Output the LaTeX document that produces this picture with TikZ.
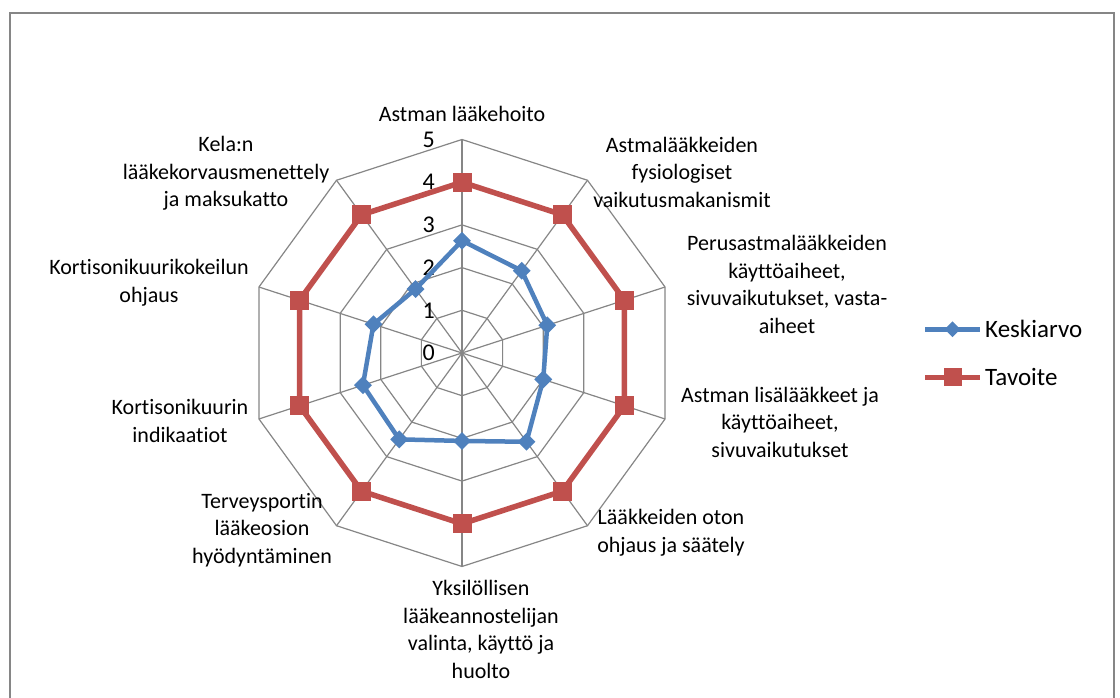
\documentclass[tikz,border=0pt]{standalone}
\usepackage{fontspec}
\setmainfont[Ligatures=NoCommon]{Carlito}
\usetikzlibrary{shapes.geometric}
\definecolor{gridgray}{HTML}{868686}
\definecolor{serblue}{HTML}{4F81BD}
\definecolor{serred}{HTML}{C0504D}

\begin{document}
\begin{tikzpicture}[x=1pt,y=1pt,
  gridline/.style={draw=gridgray, line width=1.2pt},
  axlabel/.style={align=center, font=\fontsize{22}{27.5}\selectfont, inner sep=0pt},
  ticklabel/.style={font=\fontsize{24}{28}\selectfont, anchor=east, inner sep=0pt},
  blueline/.style={draw=serblue, line width=4.5pt, line join=round},
  redline/.style={draw=serred, line width=5.5pt, line join=round},
  diamondmark/.style={diamond, fill=serblue, inner sep=0pt, minimum size=#1},
  diamondmark/.default=18pt,
  squaremark/.style={rectangle, fill=serred, inner sep=0pt, minimum size=#1},
  squaremark/.default=19pt,
  legendtext/.style={font=\fontsize{25}{30}\selectfont, anchor=west, inner sep=0pt}
]
\useasboundingbox (0,0) rectangle (1120,698);
\clip (0,0) rectangle (1120,698);
\fill[white] (0,0) rectangle (1120,698);
% chart frame (open at the bottom edge of the page)
\draw[gridgray, line width=1.3pt] (10,-10) -- (10,685) -- (1114,685) -- (1114,-10);

\begin{scope}[shift={(462,345)}]
  % decagonal grid rings and spokes
  \foreach \k in {1,...,5} {
    \draw[gridline] (90:\k*42.7) \foreach \i in {1,...,9} { -- ({90-36*\i}:\k*42.7) } -- cycle;
  }
  \foreach \i in {0,...,9} \draw[gridline] (0,0) -- ({90-36*\i}:5*42.7);
  % scale numbers
  \foreach \k in {0,...,5} \node[ticklabel] (tick\k) at (-27,\k*42.7) {\k};

  % data points
  \foreach \v [count=\i from 0] in {2.63,2.38,2.10,2.0,2.57,2.06,2.5,2.44,2.18,1.85}
    \coordinate (b\i) at ({90-36*\i}:\v*42.7);
  \foreach \i in {0,...,9}
    \coordinate (r\i) at ({90-36*\i}:4*42.7);

  \draw[blueline] (b0) -- (b1) -- (b2) -- (b3) -- (b4) -- (b5) -- (b6) -- (b7) -- (b8) -- (b9) -- cycle;
  \draw[redline] (r0) -- (r1) -- (r2) -- (r3) -- (r4) -- (r5) -- (r6) -- (r7) -- (r8) -- (r9) -- cycle;
  \foreach \i in {0,...,9} {
    \node[diamondmark] (bm\i) at (b\i) {};
    \node[squaremark] (rm\i) at (r\i) {};
  }
\end{scope}

% axis titles
\node[axlabel] (l0) at (462,584) {Astman lääkehoito};
\node[axlabel] (l1) at (682,526) {Astmalääkkeiden\\fysiologiset\\vaikutusmakanismit};
\node[axlabel] (l2) at (787,413.5) {Perusastmalääkkeiden\\käyttöaiheet,\\sivuvaikutukset, vasta-\\aiheet};
\node[axlabel] (l3) at (780,276) {Astman lisälääkkeet ja\\käyttöaiheet,\\sivuvaikutukset};
\node[axlabel] (l4) at (671,165) {Lääkkeiden oton\\ohjaus ja säätely};
\node[axlabel] (l5) at (481,68.5) {Yksilöllisen\\lääkeannostelijan\\valinta, käyttö ja\\huolto};
\node[axlabel] (l6) at (262,168) {Terveysportin\\lääkeosion\\hyödyntäminen};
\node[axlabel] (l7) at (180,277) {Kortisonikuurin\\indikaatiot};
\node[axlabel] (l8) at (149,415) {Kortisonikuurikokeilun\\ohjaus};
\node[axlabel] (l9) at (226,524.5) {Kela:n\\lääkekorvausmenettely\\ja maksukatto};

% legend
\coordinate (kbA) at (925,368.7);
\coordinate (kbB) at (980,368.7);
\coordinate (ktA) at (925,320.7);
\coordinate (ktB) at (980,320.7);
\draw[blueline] (kbA) -- (kbB);
\node[diamondmark=16pt] (kbm) at (952.5,368.7) {};
\node[legendtext] (kbt) at (985,368.7) {Keskiarvo};
\draw[redline] (ktA) -- (ktB);
\node[squaremark=18pt] (ktm) at (952.5,320.7) {};
\node[legendtext] (ktt) at (985,320.7) {Tavoite};
\end{tikzpicture}
\end{document}
